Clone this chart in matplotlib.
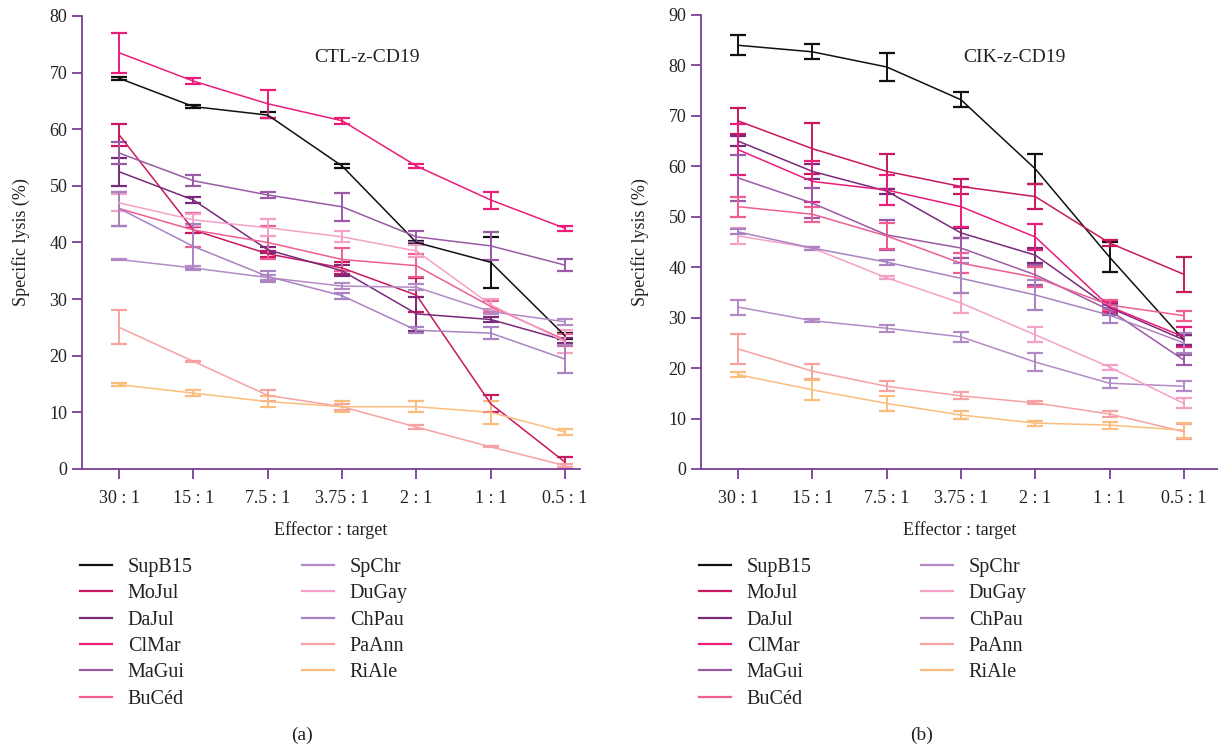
import matplotlib.pyplot as plt
from matplotlib.lines import Line2D
import numpy as np

# ─── Datos ───────────────────────────────────────────────────────────────────

ratios = ['30 : 1', '15 : 1', '7.5 : 1', '3.75 : 1', '2 : 1', '1 : 1', '0.5 : 1']
donors = ['SupB15', 'MoJul', 'DaJul', 'ClMar', 'MaGui', 'BuCéd',
          'SpChr', 'DuGay', 'ChPau', 'PaAnn', 'RiAle']
colors = ['#111111', '#c8185f', '#7a2a7c', '#ec1c7a', '#9a5aa6', '#ef5e93',
          '#b38ac6', '#f5a1c7', '#a982c2', '#f7a2a2', '#fbbd7d']

# CTL-z-CD19 (a)
ctl_mean = {
    'SupB15': [69, 64, 62.5, 53.5, 40, 36.5, 23.5],
    'MoJul':  [59, 42.2, 38, 35.5, 30.7, 11.5, 1.2],
    'DaJul':  [52.5, 47.5, 38.7, 35, 27.4, 26.4, 22.7],
    'ClMar':  [73.5, 68.5, 64.5, 61.5, 53.5, 47.5, 42.5],
    'MaGui':  [55.8, 50.9, 48.4, 46.3, 41, 39.4, 36],
    'BuCéd':  [46, 42.2, 40, 37, 35.9, 28.7, 22.8],
    'SpChr':  [37, 35.5, 33.8, 32.3, 32.1, 27.8, 26],
    'DuGay':  [47, 44, 42.6, 41, 38.5, 29, 22.5],
    'ChPau':  [46, 39.3, 34, 30.6, 24.5, 24, 19.4],
    'PaAnn':  [25, 19, 13, 11, 7.4, 3.9, 0.6],
    'RiAle':  [14.9, 13.4, 11.9, 11, 11, 10, 6.5],
}
ctl_err = {
    'SupB15': [0.3, 0.2, 0.5, 0.4, 0.3, 4.5, 0.5],
    'MoJul':  [2, 0.5, 0.5, 1, 3, 1.5, 1],
    'DaJul':  [2.5, 0.5, 0.5, 1, 3, 0.5, 0.5],
    'ClMar':  [3.5, 0.5, 2.5, 0.5, 0.4, 1.5, 0.5],
    'MaGui':  [2, 1, 0.5, 2.5, 1, 2.5, 1],
    'BuCéd':  [3, 3, 3, 2, 2, 1, 1],
    'SpChr':  [0.1, 0.3, 0.5, 0.5, 0.5, 0.5, 0.5],
    'DuGay':  [1.5, 1, 1.5, 1, 1, 1, 2],
    'ChPau':  [3, 4, 1, 0.5, 0.5, 1, 2.5],
    'PaAnn':  [3, 0.1, 1, 0.5, 0.3, 0.1, 0.3],
    'RiAle':  [0.2, 0.5, 1, 1, 1, 2, 0.5],
}

# CIK-z-CD19 (b)
cik_mean = {
    'SupB15': [84, 82.7, 79.7, 73.2, 59.5, 42, 25.6],
    'MoJul':  [69, 63.5, 59, 56, 54, 44.8, 38.6],
    'DaJul':  [65, 59, 55.1, 46.8, 42.4, 32, 25.6],
    'ClMar':  [63.3, 57, 55.3, 52, 46, 32.2, 26.2],
    'MaGui':  [57.7, 52.7, 46.4, 43.8, 38.5, 31.5, 21.6],
    'BuCéd':  [52, 50.5, 46.2, 40.8, 38, 32.5, 30.4],
    'SpChr':  [32.1, 29.4, 27.9, 26.2, 21.2, 17, 16.4],
    'DuGay':  [46.2, 43.8, 37.9, 32.9, 26.6, 20.2, 13],
    'ChPau':  [47, 43.8, 41, 37.8, 34.5, 30.5, 25],
    'PaAnn':  [23.8, 19.4, 16.4, 14.5, 13.1, 10.9, 7.4],
    'RiAle':  [18.7, 15.7, 13, 10.7, 9.1, 8.7, 7.7],
}
cik_err = {
    'SupB15': [2, 1.5, 2.7, 1.5, 3, 3, 1],
    'MoJul':  [2.5, 5, 3.5, 1.5, 2.5, 0.5, 3.5],
    'DaJul':  [1, 1.5, 0.5, 1, 1.5, 1, 1],
    'ClMar':  [5, 4, 3, 4, 2.5, 1, 2],
    'MaGui':  [4.5, 3, 3, 2, 2, 1, 1],
    'BuCéd':  [2, 1.5, 2.5, 2, 2, 1, 1],
    'SpChr':  [1.5, 0.3, 0.7, 1, 1.7, 1, 1],
    'DuGay':  [1.5, 0.3, 0.3, 2, 1.5, 0.5, 1],
    'ChPau':  [0.5, 0.3, 0.5, 3, 3, 1.5, 2],
    'PaAnn':  [3, 1.5, 1, 0.7, 0.3, 0.5, 1.5],
    'RiAle':  [0.5, 2, 1.5, 0.7, 0.5, 0.7, 1.5],
}

# ─── Estilo ──────────────────────────────────────────────────────────────────

plt.rcParams['font.family'] = ['Liberation Serif', 'DejaVu Serif']
plt.rcParams['font.size'] = 13
axis_col = '#7b3f98'
text_col = '#222222'

fig = plt.figure(figsize=(12.18, 7.49), dpi=100)
W, H = 1218, 749


def panel(rect, means, errs, ymax, title, title_pos, caption, cap_x):
    ax = fig.add_axes(rect)
    x = np.arange(len(ratios))
    for name, col in zip(donors, colors):
        ax.errorbar(x, means[name], yerr=errs[name], color=col, lw=1.1,
                    elinewidth=1.4, capsize=5.5, capthick=1.6)
    ax.set_ylim(0, ymax)
    ax.set_yticks(np.arange(0, ymax + 1, 10))
    ax.set_xticks(x)
    ax.set_xticklabels(ratios)
    for s in ['top', 'right']:
        ax.spines[s].set_visible(False)
    for s in ['left', 'bottom']:
        ax.spines[s].set_color(axis_col)
        ax.spines[s].set_linewidth(1.3)
    ax.tick_params(colors=axis_col, labelcolor=text_col, length=7, width=1.3,
                   labelsize=13)
    ax.tick_params(axis='x', pad=8)
    ax.set_ylabel('Specific lysis (%)', color=text_col, fontsize=13, labelpad=14)
    ax.set_xlabel('Effector : target', color=text_col, fontsize=13, labelpad=10)
    ax.text(title_pos[0], title_pos[1], title, transform=ax.transAxes,
            ha='center', va='center', fontsize=14, color=text_col)
    handles = [Line2D([], [], color=c, lw=1.6) for c in colors]
    leg = ax.legend(handles, donors, loc='upper left',
                    bbox_to_anchor=(rect[0] - 0.002, 1 - 558 / H),
                    bbox_transform=fig.transFigure, ncol=2, frameon=False,
                    borderpad=0, borderaxespad=0, handlelength=1.6,
                    handletextpad=0.8, columnspacing=5.4, labelspacing=0.36,
                    fontsize=14.5)
    for t in leg.get_texts():
        t.set_color(text_col)
    fig.text(cap_x / W, 1 - 735 / H, caption, ha='center', va='center',
             fontsize=14, color=text_col)
    return ax


ax1 = panel([82 / W, 1 - 469 / H, (580 - 82) / W, (469 - 16) / H],
            ctl_mean, ctl_err, 80, 'CTL-z-CD19', (0.572, 0.909), '(a)', 302)
ax1.set_xlim(-0.5, 6.2)

ax2 = panel([701 / W, 1 - 469 / H, (1218 - 701) / W, (469 - 15) / H],
            cik_mean, cik_err, 90, 'CIK-z-CD19', (0.607, 0.907), '(b)', 922)
ax2.set_xlim(-0.5, 6.46)

fig.savefig('out.png', dpi=100)
